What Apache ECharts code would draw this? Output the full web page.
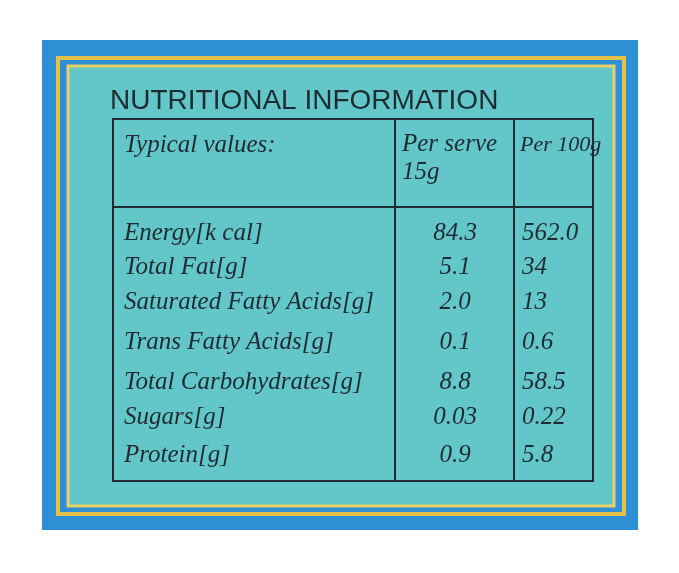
<!DOCTYPE html><html><head><meta charset="utf-8">
<script src="https://cdn.jsdelivr.net/npm/echarts@6/dist/echarts.min.js"></script>
<style>html,body{margin:0;background:#fff}#c{width:679px;height:573px}</style></head><body><div id="c"></div>
<script>
const title = "NUTRITIONAL INFORMATION";
const headers = ["Typical values:", "Per serve\n15g", "Per 100g"];
const nutrients = ["Energy[k cal]","Total Fat[g]","Saturated Fatty Acids[g]","Trans Fatty Acids[g]","Total Carbohydrates[g]","Sugars[g]","Protein[g]"];
const perServe = ["84.3","5.1","2.0","0.1","8.8","0.03","0.9"];
const per100 = ["562.0","34","13","0.6","58.5","0.22","5.8"];
const rowY = [233,267,302,342,382,417,455];

const chart = echarts.init(document.getElementById('c'));
const ink = '#1d2b33';
const font = 'italic 25px "Liberation Serif", "DejaVu Serif", serif';
const els = [
 {type:'rect',shape:{x:42,y:40,width:596,height:490},style:{fill:'#2e8fd4'}},
 {type:'rect',shape:{x:58,y:58,width:566,height:456},style:{fill:'none',stroke:'#e3c24a',lineWidth:4}},
 {type:'rect',shape:{x:68,y:66,width:546,height:440},style:{fill:'#63c6c9',stroke:'#e8d06a',lineWidth:3}},
 {type:'text',style:{x:110,y:101,text:title,fill:ink,font:'500 28px "Liberation Sans", sans-serif',verticalAlign:'middle'}},
 {type:'rect',shape:{x:113,y:119,width:480,height:362},style:{fill:'none',stroke:ink,lineWidth:2}},
 {type:'line',shape:{x1:113,y1:207,x2:593,y2:207},style:{stroke:ink,lineWidth:2}},
 {type:'line',shape:{x1:395,y1:119,x2:395,y2:481},style:{stroke:ink,lineWidth:2}},
 {type:'line',shape:{x1:514,y1:119,x2:514,y2:481},style:{stroke:ink,lineWidth:2}},
 {type:'text',style:{x:124,y:145,text:headers[0],fill:ink,font:font,verticalAlign:'middle'}},
 {type:'text',style:{x:402,y:130,text:headers[1],fill:ink,font:font,lineHeight:28,verticalAlign:'top'}},
 {type:'text',style:{x:520,y:145,text:headers[2],fill:ink,font:'italic 22px "Liberation Serif", serif',verticalAlign:'middle'}}
];
nutrients.forEach((n,i)=>{
 els.push({type:'text',style:{x:124,y:rowY[i],text:n,fill:ink,font:font,verticalAlign:'middle'}});
 els.push({type:'text',style:{x:455,y:rowY[i],text:perServe[i],fill:ink,font:font,align:'center',verticalAlign:'middle'}});
 els.push({type:'text',style:{x:522,y:rowY[i],text:per100[i],fill:ink,font:font,verticalAlign:'middle'}});
});
chart.setOption({animation:false,graphic:{elements:els}});
</script></body></html>
